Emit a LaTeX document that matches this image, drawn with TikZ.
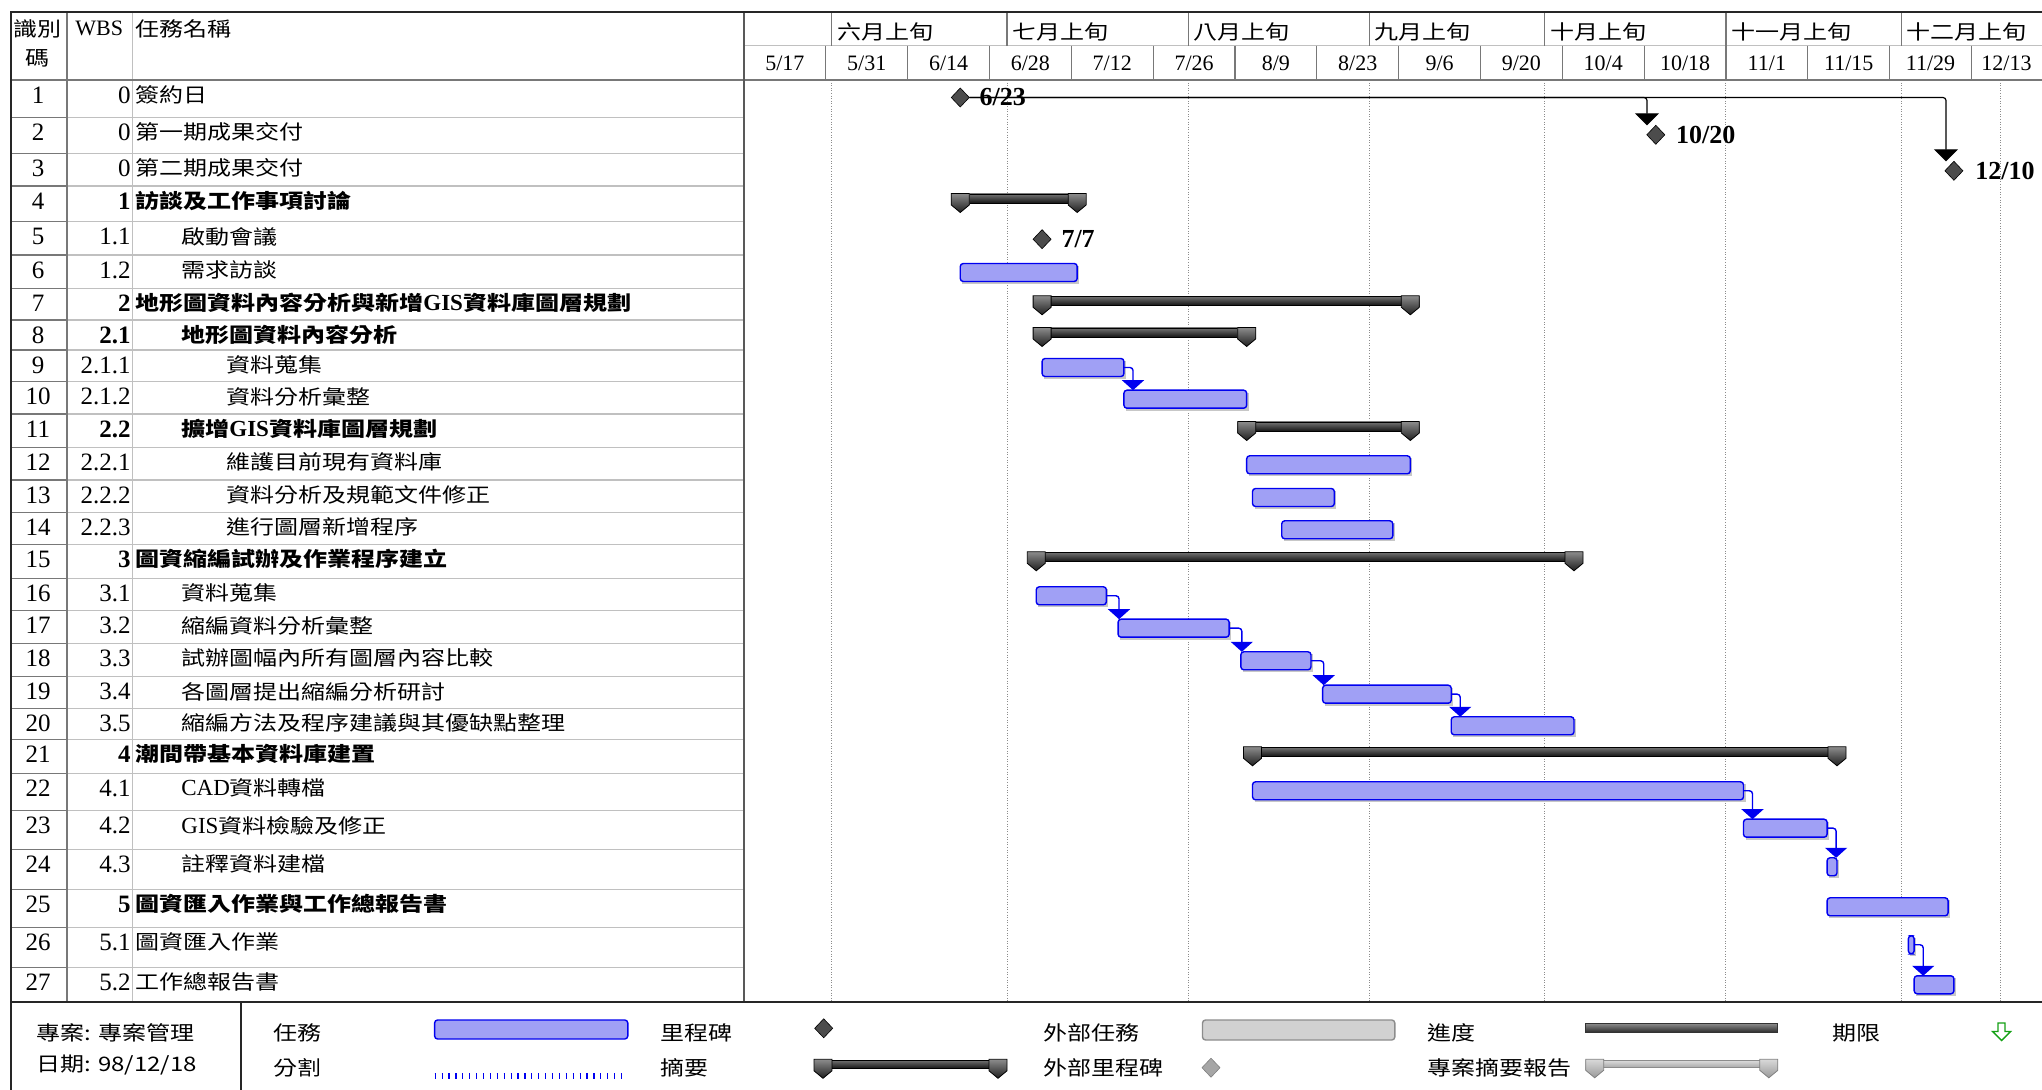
\documentclass[tikz,border=0pt]{standalone}
\usepackage{fontspec}
\setmainfont{Liberation Serif}
\newfontfamily\cjk[FakeStretch=1.2]{Noto Sans CJK TC}
\usetikzlibrary{shapes.geometric,fit,arrows.meta,calc}
\definecolor{barfill}{RGB}{160,160,245}
\definecolor{barline}{RGB}{0,0,240}
\definecolor{tbl}{RGB}{192,192,192}
\definecolor{tbldark}{RGB}{120,120,120}
\definecolor{dlgreen}{RGB}{20,160,20}
\newcommand\fnum{\fontsize{12.5}{13}\selectfont}
\newcommand\fcjk{\cjk\fontsize{10}{11}\selectfont}
\newcommand\ftier{\fontsize{11}{12}\selectfont}
\newcommand\flab{\bfseries\fontsize{13}{14}\selectfont}
\newcommand\latn[1]{{\rmfamily\fontsize{11.5}{12}\selectfont #1}}
\newcommand\dayx[1]{744+5.845*(#1)}
\newcommand\taskbarat[4]{%
  \fill[black!22] ({\dayx{#2}+2},#4+11) rectangle ({\dayx{#3}+2},#4+29);
  \node[taskbar, fit={({\dayx{#2}},#4+8.5) ({\dayx{#3}},#4+26.5)}] (#1) {};
}
\newcommand\sumbarat[4]{%
  \node[sumbody, fit={({\dayx{#2}},#4+8) ({\dayx{#3}},#4+17)}] (#1) {};
  \pic at ({\dayx{#2}},#4+7.5) {sumcap};
  \pic at ({\dayx{#3}},#4+7.5) {sumcap};
}
\newcommand\tasklink[3]{%
  \coordinate (v#1) at (#3,0);
  \draw[tlinkst] (#1.east) -- (v#1 |- #1.east) -- (v#1 |- #2.north);
}
\begin{document}
\begin{tikzpicture}[x=0.5pt,y=-0.5pt,
  taskbar/.style={draw=barline, fill=barfill, line width=0.7pt, rounded corners=1.5pt, inner sep=0pt, outer sep=0pt},
  extbar/.style={draw=black!45, fill=black!18, line width=0.7pt, rounded corners=1.5pt, inner sep=0pt, outer sep=0pt},
  sumbody/.style={draw=black, line width=0.4pt, top color=black!55, bottom color=black!92, inner sep=0pt, outer sep=0pt},
  psumbody/.style={draw=black!45, line width=0.4pt, top color=black!15, bottom color=black!35, inner sep=0pt, outer sep=0pt},
  progbar/.style={draw=black!80, line width=0.4pt, top color=black!45, bottom color=black!85, inner sep=0pt, outer sep=0pt},
  sumcap/.pic={\shadedraw[top color=black!45, bottom color=black!88, draw=black, line width=0.4pt] (-9,0) -- (9,0) -- (9,11.5) -- (0,19) -- (-9,11.5) -- cycle;},
  psumcap/.pic={\shadedraw[top color=black!15, bottom color=black!40, draw=black!50, line width=0.4pt] (-9,0) -- (9,0) -- (9,11) -- (0,18.5) -- (-9,11) -- cycle;},
  ms/.style={diamond, fill=black!70, draw=black, line width=0.3pt, minimum width=9pt, minimum height=9.5pt, inner sep=0pt, outer sep=0pt},
  tlinkst/.style={draw=barline, line width=0.7pt, rounded corners=1.5pt, -{Triangle[width=11pt,length=5pt]}},
  mlinkst/.style={draw=black, line width=0.6pt, rounded corners=1.5pt, -{Triangle[width=12pt,length=6pt]}},
  gridline/.style={draw=black!45, line width=0.5pt, dash pattern=on 0.5pt off 0.8pt},
  tblline/.style={draw=tbl, line width=0.75pt},
  tbldline/.style={draw=tbldark, line width=0.75pt},
  idcell/.style={font=\fnum, inner sep=0pt},
  namecell/.style={inner sep=0pt},
  cjkt/.style={font=\fcjk, inner sep=0pt},
  mlab/.style={font=\flab, inner sep=0pt, anchor=west}
]
\useasboundingbox (0,0) rectangle (2042,1090);
\clip (0,0) rectangle (2042,1090);
\fill[white] (0,0) rectangle (2042,1090);

% gridlines
\foreach \d in {15,45,76,107,137,168,198,215}
  \draw[gridline] ({\dayx{\d}},80) -- ({\dayx{\d}},1001.7);

% table grid
\foreach \y in {117.3,153.3,186,221.7,255,288.3,320,350,381.7,414,447.3,480,512.3,544.3,578.3,610.7,643.3,676.7,708.3,739.3,773.3,810.7,849.3,889.3,927.3,967.3}{
  \draw[tblline] (66.9,\y) -- (744,\y);
  \draw[tbldline] (10.7,\y) -- (66.9,\y);
}
\draw[tbldark, line width=0.8pt] (66.9,11.7) -- (66.9,1001.7);
\draw[tbl, line width=0.8pt] (132.3,11.7) -- (132.3,1001.7);
\draw[tbldark, line width=1pt] (10.7,80) -- (2042,80);
\draw[tbl, line width=0.8pt] (744,45.7) -- (2042,45.7);
\draw[black!65, line width=0.8pt] (744,11.7) -- (744,1001.7);

% timescale
\foreach \d/\lab in {15/六月上旬,45/七月上旬,76/八月上旬,107/九月上旬,137/十月上旬,168/十一月上旬,198/十二月上旬}{
  \draw[tbldark, line width=0.6pt] ({\dayx{\d}},11.7) -- ({\dayx{\d}},45.7);
  \node[cjkt, anchor=west] (tt\d) at ({\dayx{\d}+5},31.5) {\lab};
}
\foreach \d in {14,28,...,210}
  \draw[tbldark, line width=0.6pt] ({\dayx{\d}},45.7) -- ({\dayx{\d}},80);
\foreach \c/\m/\dd in {7/5/17,21/5/31,35/6/14,49/6/28,63/7/12,77/7/26,91/8/9,105/8/23,119/9/6,133/9/20,147/10/4,161/10/18,175/11/1,189/11/15,203/11/29,216/12/13}
  \node[font=\ftier, inner sep=0pt] (tb\c) at ({\dayx{\c}},63) {\m/\dd};

% header
\node[cjkt] (h1) at (37.5,29) {識別};
\node[cjkt] (h2) at (37.6,58) {碼};
\node[font=\fontsize{11}{12}\selectfont, inner sep=0pt] (h3) at (99.3,28.5) {WBS};
\node[cjkt, anchor=west] (h4) at (135,29) {任務名稱};

% rows
\foreach \rid/\rtop/\rwbs/\rx/\rbf/\rname in {
1/80/0/135/\mdseries/簽約日,
2/117.3/0/135/\mdseries/第一期成果交付,
3/153.3/0/135/\mdseries/第二期成果交付,
4/186/1/135/\bfseries/訪談及工作事項討論,
5/221.7/1.1/181/\mdseries/啟動會議,
6/255/1.2/181/\mdseries/需求訪談,
7/288.3/2/135/\bfseries/地形圖資料內容分析與新增\latn{GIS}資料庫圖層規劃,
8/320/2.1/181/\bfseries/地形圖資料內容分析,
9/350/2.1.1/226/\mdseries/資料蒐集,
10/381.7/2.1.2/226/\mdseries/資料分析彙整,
11/414/2.2/181/\bfseries/擴增\latn{GIS}資料庫圖層規劃,
12/447.3/2.2.1/226/\mdseries/維護目前現有資料庫,
13/480/2.2.2/226/\mdseries/資料分析及規範文件修正,
14/512.3/2.2.3/226/\mdseries/進行圖層新增程序,
15/544.3/3/135/\bfseries/圖資縮編試辦及作業程序建立,
16/578.3/3.1/181/\mdseries/資料蒐集,
17/610.7/3.2/181/\mdseries/縮編資料分析彙整,
18/643.3/3.3/181/\mdseries/試辦圖幅內所有圖層內容比較,
19/676.7/3.4/181/\mdseries/各圖層提出縮編分析研討,
20/708.3/3.5/181/\mdseries/縮編方法及程序建議與其優缺點整理,
21/739.3/4/135/\bfseries/潮間帶基本資料庫建置,
22/773.3/4.1/181/\mdseries/\latn{CAD}資料轉檔,
23/810.7/4.2/181/\mdseries/\latn{GIS}資料檢驗及修正,
24/849.3/4.3/181/\mdseries/註釋資料建檔,
25/889.3/5/135/\bfseries/圖資匯入作業與工作總報告書,
26/927.3/5.1/135/\mdseries/圖資匯入作業,
27/967.3/5.2/135/\mdseries/工作總報告書}{
  \node[idcell] (id\rid) at (38,\rtop+15) {\rid};
  \node[idcell, font=\fnum\rbf, anchor=east] (wbs\rid) at (131,\rtop+15) {\rwbs};
  \node[namecell, font=\fcjk\rbf, anchor=west] (nm\rid) at (\rx,\rtop+15) {\rname};
}

% task bars
\taskbarat{b6}{37}{57}{255}
\taskbarat{b9}{51}{65}{350}
\taskbarat{b10}{65}{86}{381.7}
\taskbarat{b12}{86}{114}{447.3}
\taskbarat{b13}{87}{101}{480}
\taskbarat{b14}{92}{111}{512.3}
\taskbarat{b16}{50}{62}{578.3}
\taskbarat{b17}{64}{83}{610.7}
\taskbarat{b18}{85}{97}{643.3}
\taskbarat{b19}{99}{121}{676.7}
\taskbarat{b20}{121}{142}{708.3}
\taskbarat{b22}{87}{171}{773.3}
\taskbarat{b23}{171}{185.3}{810.7}
\taskbarat{b24}{185.3}{187}{849.3}
\taskbarat{b25}{185.3}{206}{889.3}
\taskbarat{b26}{199.2}{200.2}{927.3}
\taskbarat{b27}{200.2}{207}{967.3}

% summary bars
\sumbarat{s4}{37}{57}{186}
\sumbarat{s7}{51}{114}{288.3}
\sumbarat{s8}{51}{86}{320}
\sumbarat{s11}{86}{114}{414}
\sumbarat{s15}{50}{142}{544.3}
\sumbarat{s21}{87}{187}{739.3}

% milestones
\node[ms] (m1) at ({\dayx{37}},97.5) {};
\node[ms] (m2) at ({\dayx{156}},134.8) {};
\node[ms] (m3) at ({\dayx{207}},170.8) {};
\node[ms] (m5) at ({\dayx{51}},239.2) {};
\coordinate (v2) at (1647,0);
\coordinate (v3) at (1946,0);
\draw[mlinkst] (m1.east) -- (v2 |- m1.east) -- (v2 |- m2.north);
\draw[mlinkst] (m1.east) -- (v3 |- m1.east) -- (v3 |- m3.north);
\node[mlab] (l1) at ([xshift=5pt]m1.east) {6/23};
\node[mlab] (l2) at ([xshift=5.5pt]m2.east) {10/20};
\node[mlab] (l3) at ([xshift=6pt]m3.east) {12/10};
\node[mlab] (l5) at ([xshift=5pt]m5.east) {7/7};

% task links
\tasklink{b9}{b10}{1133}
\tasklink{b16}{b17}{1119}
\tasklink{b17}{b18}{1241.8}
\tasklink{b18}{b19}{1323.7}
\tasklink{b19}{b20}{1460.2}
\tasklink{b22}{b23}{1752.5}
\tasklink{b23}{b24}{1836.1}
\tasklink{b26}{b27}{1923.2}

% frame
\draw[black!85, line width=1pt] (2050,11.7) -- (10.7,11.7) -- (10.7,1095);
\draw[black!85, line width=1.2pt] (10.7,1001.7) -- (2050,1001.7);
\draw[black!85, line width=0.8pt] (240.7,1001.7) -- (240.7,1095);

% legend
\node[cjkt, anchor=west] (lg1) at (35.8,1033.3) {專案: 專案管理};
\node[cjkt, anchor=west] (lg2) at (35.8,1065) {日期: 98/12/18};
\node[cjkt, anchor=west] (lg3) at (273,1033) {任務};
\node[taskbar, fit={(434.6,1020) (627.8,1039)}] (lgb) {};
\node[cjkt, anchor=west] (lg4) at (273,1068) {分割};
\draw[barline, line width=3pt, dash pattern=on 0.6pt off 2.85pt] (434.6,1076) -- (621.3,1076);
\node[cjkt, anchor=west] (lg5) at (660.4,1033) {里程碑};
\node[ms] (lgm) at (823.7,1028.3) {};
\node[cjkt, anchor=west] (lg6) at (660.4,1068) {摘要};
\node[sumbody, fit={(823,1060) (998,1068.5)}] (lgs) {};
\pic at (823,1059.3) {sumcap};
\pic at (998,1059.3) {sumcap};
\node[cjkt, anchor=west] (lg7) at (1042.8,1033) {外部任務};
\node[extbar, fit={(1202.5,1020) (1394.8,1040)}] (lgx) {};
\node[cjkt, anchor=west] (lg8) at (1042.8,1068) {外部里程碑};
\node[ms, fill=black!35, draw=black!50] (lgxm) at (1211,1067.7) {};
\node[cjkt, anchor=west] (lg9) at (1427.4,1033) {進度};
\node[progbar, fit={(1585.8,1023.3) (1777.5,1032.7)}] (lgp) {};
\node[cjkt, anchor=west] (lg10) at (1427.4,1068) {專案摘要報告};
\node[psumbody, fit={(1594.7,1060.8) (1768.8,1067.8)}] (lgps) {};
\pic at (1594.7,1059.3) {psumcap};
\pic at (1768.8,1059.3) {psumcap};
\node[cjkt, anchor=west] (lg11) at (1831.6,1033) {期限};
\draw[dlgreen, line width=0.7pt, line join=miter] (1998,1023) -- (2005,1023) -- (2005,1031.5) -- (2010.5,1031.5) -- (2001.5,1040.5) -- (1992.5,1031.5) -- (1998,1031.5) -- cycle;
\end{tikzpicture}
\end{document}
